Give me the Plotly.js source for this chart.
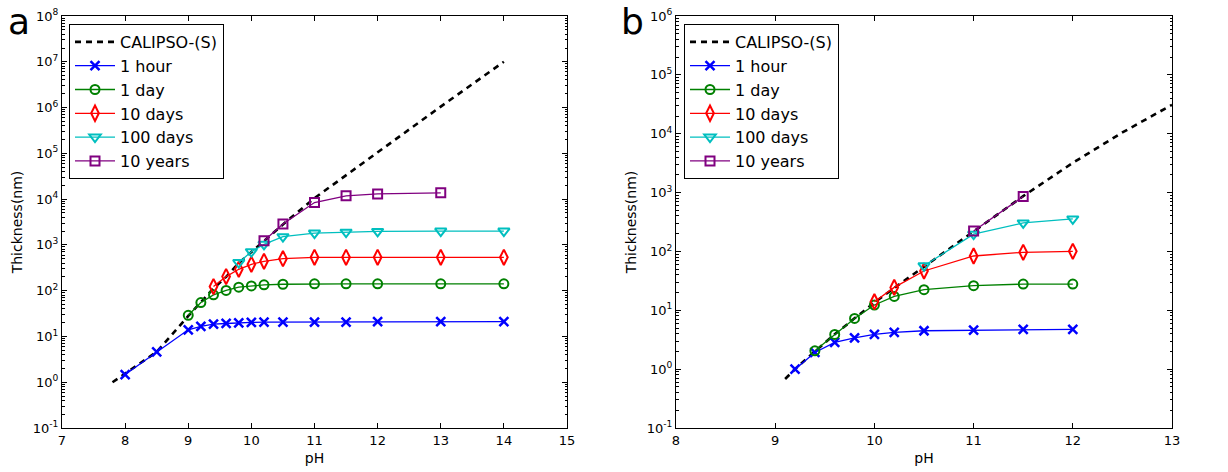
<!DOCTYPE html>
<html>
<head>
<meta charset="utf-8">
<script src="https://cdn.plot.ly/plotly-3.0.1.min.js"></script>
<style>html,body{margin:0;padding:0;background:#fff;}#chart{width:1228px;height:472px;}</style>
</head>
<body>
<div id="chart"></div>
<script>
// ---- Panel a data ----
const seriesNames = ["CALIPSO-(S)", "1 hour", "1 day", "10 days", "100 days", "10 years"];

const a_calipso_pH = [7.8, 8, 8.5, 9, 9.2, 9.4, 9.6, 9.8, 10, 10.2, 10.5, 11, 12, 13, 14];
const a_calipso_thk = [1.0, 1.55, 4.6, 28, 55, 112, 200, 400, 700, 1230, 2800, 10500, 107000, 1.05e6, 1.0e7];

const a_hour_pH = [8, 8.5, 9, 9.2, 9.4, 9.6, 9.8, 10, 10.2, 10.5, 11, 11.5, 12, 13, 14];
const a_hour_thk = [1.47, 4.6, 14, 16.6, 18.6, 19.2, 19.9, 20.3, 20.5, 20.6, 20.6, 20.6, 21, 21, 21];

const a_day_pH = [9, 9.2, 9.4, 9.6, 9.8, 10, 10.2, 10.5, 11, 11.5, 12, 13, 14];
const a_day_thk = [29, 55, 81, 101, 119, 127, 134, 138, 141, 141, 141, 141, 141];

const a_10d_pH = [9.4, 9.6, 9.8, 10, 10.2, 10.5, 11, 11.5, 12, 13, 14];
const a_10d_thk = [123, 203, 293, 377, 438, 501, 535, 535, 535, 535, 535];

const a_100d_pH = [9.8, 10, 10.2, 10.5, 11, 11.5, 12, 13, 14];
const a_100d_thk = [410, 711, 1030, 1510, 1810, 1900, 1970, 2000, 2000];

const a_10y_pH = [10.2, 10.5, 11, 11.5, 12, 13];
const a_10y_thk = [1230, 2850, 8400, 11800, 13000, 13700];

// ---- Panel b data ----
const b_calipso_pH = [9.1, 9.2, 9.4, 9.6, 9.8, 10, 10.2, 10.5, 11, 11.5, 12, 12.5, 13];
const b_calipso_thk = [0.68, 1.0, 2.0, 3.9, 7.3, 13.5, 24, 55, 215, 870, 3200, 10500, 31000];

const b_hour_pH = [9.2, 9.4, 9.6, 9.8, 10, 10.2, 10.5, 11, 11.5, 12];
const b_hour_thk = [1.0, 1.92, 2.84, 3.41, 3.89, 4.2, 4.49, 4.61, 4.73, 4.73];

const b_day_pH = [9.4, 9.6, 9.8, 10, 10.2, 10.5, 11, 11.5, 12];
const b_day_thk = [2.05, 3.89, 7.28, 12.3, 17.2, 22.4, 26.2, 27.9, 27.9];

const b_10d_pH = [10, 10.2, 10.5, 11, 11.5, 12];
const b_10d_thk = [14, 24.5, 46.5, 83.7, 96.7, 100.5];

const b_100d_pH = [10.5, 11, 11.5, 12];
const b_100d_thk = [57, 196, 305, 357];

const b_10y_pH = [11, 11.5];
const b_10y_thk = [223, 857];

// ---- Axis tick labels ----
const a_xticks = [7, 8, 9, 10, 11, 12, 13, 14, 15];
const b_xticks = [8, 9, 10, 11, 12, 13];
const a_yexp = [-1, 0, 1, 2, 3, 4, 5, 6, 7, 8];
const b_yexp = [-1, 0, 1, 2, 3, 4, 5, 6];

const colors = ["#000000", "#0000ff", "#008000", "#ff0000", "#00bfbf", "#800080"];
const symbols = [null, "x-thin-open", "circle-open", "diamond-tall-open", "triangle-down-open", "square-open"];
const msizes = [0, 9, 9, 11, 10, 9];
const mwidths = [0, 2.5, 2, 2, 2, 2];

function makeTraces(sets, xa, ya, leg) {
  return sets.map((s, i) => {
    const t = {
      x: s[0], y: s[1], name: seriesNames[i], xaxis: xa, yaxis: ya, legend: leg,
      type: "scatter"
    };
    if (i === 0) {
      t.mode = "lines";
      t.line = {color: "#000", width: 2.6, dash: "6px,5px"};
    } else {
      t.mode = "lines+markers";
      t.line = {color: colors[i], width: 1.3};
      t.marker = {symbol: symbols[i], size: msizes[i], color: colors[i], line: {color: colors[i], width: mwidths[i]}};
    }
    return t;
  });
}

const traces = [].concat(
  makeTraces([[a_calipso_pH, a_calipso_thk], [a_hour_pH, a_hour_thk], [a_day_pH, a_day_thk],
              [a_10d_pH, a_10d_thk], [a_100d_pH, a_100d_thk], [a_10y_pH, a_10y_thk]], "x", "y", "legend"),
  makeTraces([[b_calipso_pH, b_calipso_thk], [b_hour_pH, b_hour_thk], [b_day_pH, b_day_thk],
              [b_10d_pH, b_10d_thk], [b_100d_pH, b_100d_thk], [b_10y_pH, b_10y_thk]], "x2", "y2", "legend2")
);

const W = 1228, H = 472;
const supLabel = e => "10<sup>" + (e < 0 ? "-" + (-e) : e) + "</sup>";

const common = {
  showline: true, linecolor: "#000", linewidth: 1, mirror: "allticks",
  ticks: "inside", ticklen: 5, tickwidth: 1, tickcolor: "#000",
  showgrid: false, zeroline: false,
  tickfont: {size: 13, color: "#000"}
};
const logMinor = {ticks: "inside", ticklen: 2.5, tickwidth: 1, tickcolor: "#000", dtick: "D1", showgrid: false};

const layout = {
  width: W, height: H,
  margin: {l: 0, r: 0, t: 0, b: 0},
  paper_bgcolor: "#fff", plot_bgcolor: "#fff",
  font: {family: "DejaVu Sans, sans-serif", color: "#000", size: 13},
  xaxis: Object.assign({}, common, {
    domain: [62 / W, 567 / W], range: [7, 15], tickvals: a_xticks, ticktext: a_xticks.map(String),
    anchor: "y", title: {text: "pH", font: {size: 14}, standoff: 6}
  }),
  yaxis: Object.assign({}, common, {
    domain: [1 - 428 / H, 1 - 16 / H], type: "log", range: [-1, 8],
    tickvals: a_yexp.map(e => Math.pow(10, e)), ticktext: a_yexp.map(supLabel),
    minor: logMinor, anchor: "x",
    title: {text: "Thickness(nm)", font: {size: 14}, standoff: 6}
  }),
  xaxis2: Object.assign({}, common, {
    domain: [676 / W, 1172 / W], range: [8, 13], tickvals: b_xticks, ticktext: b_xticks.map(String),
    anchor: "y2", title: {text: "pH", font: {size: 14}, standoff: 6}
  }),
  yaxis2: Object.assign({}, common, {
    domain: [1 - 428 / H, 1 - 16 / H], type: "log", range: [-1, 6],
    tickvals: b_yexp.map(e => Math.pow(10, e)), ticktext: b_yexp.map(supLabel),
    minor: logMinor, anchor: "x2",
    title: {text: "Thickness(nm)", font: {size: 14}, standoff: 6}
  }),
  legend: {
    x: 69 / W, y: 1 - 24 / H, xanchor: "left", yanchor: "top",
    bgcolor: "#fff", bordercolor: "#000", borderwidth: 1,
    font: {size: 16, color: "#000"}, itemwidth: 40, tracegroupgap: 0
  },
  legend2: {
    x: 684 / W, y: 1 - 24 / H, xanchor: "left", yanchor: "top",
    bgcolor: "#fff", bordercolor: "#000", borderwidth: 1,
    font: {size: 16, color: "#000"}, itemwidth: 40, tracegroupgap: 0
  },
  annotations: [
    {text: "a", xref: "paper", yref: "paper", x: 19 / W, y: 1, xanchor: "center", yanchor: "top",
     showarrow: false, borderpad: 0, font: {size: 36, color: "#000"}},
    {text: "b", xref: "paper", yref: "paper", x: 632 / W, y: 1, xanchor: "center", yanchor: "top",
     showarrow: false, borderpad: 0, font: {size: 36, color: "#000"}}
  ],
  showlegend: true
};

Plotly.newPlot("chart", traces, layout, {displayModeBar: false, staticPlot: true});
</script>
</body>
</html>
